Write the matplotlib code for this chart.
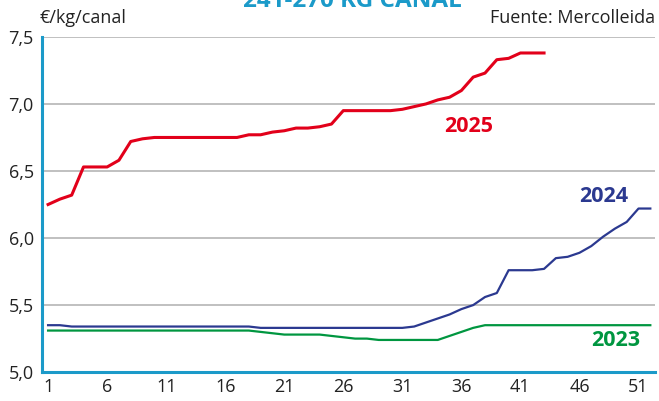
import matplotlib
matplotlib.use("Agg")
import matplotlib.pyplot as plt
import numpy as np

plt.rcParams["font.family"] = ["Open Sans", "DejaVu Sans"]

weeks_2025 = list(range(1, 44))
price_2025 = [6.25, 6.29, 6.32, 6.53, 6.53, 6.53, 6.58, 6.72, 6.74, 6.75,
              6.75, 6.75, 6.75, 6.75, 6.75, 6.75, 6.75, 6.77, 6.77, 6.79,
              6.80, 6.82, 6.82, 6.83, 6.85, 6.95, 6.95, 6.95, 6.95, 6.95,
              6.96, 6.98, 7.00, 7.03, 7.05, 7.10, 7.20, 7.23, 7.33, 7.34,
              7.38, 7.38, 7.38]

weeks_full = list(range(1, 53))
price_2024 = [5.35, 5.35, 5.34, 5.34, 5.34, 5.34, 5.34, 5.34, 5.34, 5.34,
              5.34, 5.34, 5.34, 5.34, 5.34, 5.34, 5.34, 5.34, 5.33, 5.33,
              5.33, 5.33, 5.33, 5.33, 5.33, 5.33, 5.33, 5.33, 5.33, 5.33,
              5.33, 5.34, 5.37, 5.40, 5.43, 5.47, 5.50, 5.56, 5.59, 5.76,
              5.76, 5.76, 5.77, 5.85, 5.86, 5.89, 5.94, 6.01, 6.07, 6.12,
              6.22, 6.22]
price_2023 = [5.31, 5.31, 5.31, 5.31, 5.31, 5.31, 5.31, 5.31, 5.31, 5.31,
              5.31, 5.31, 5.31, 5.31, 5.31, 5.31, 5.31, 5.31, 5.30, 5.29,
              5.28, 5.28, 5.28, 5.28, 5.27, 5.26, 5.25, 5.25, 5.24, 5.24,
              5.24, 5.24, 5.24, 5.24, 5.27, 5.30, 5.33, 5.35, 5.35, 5.35,
              5.35, 5.35, 5.35, 5.35, 5.35, 5.35, 5.35, 5.35, 5.35, 5.35,
              5.35, 5.35]

y_ticks = [5.0, 5.5, 6.0, 6.5, 7.0, 7.5]
x_ticks = [1, 6, 11, 16, 21, 26, 31, 36, 41, 46, 51]

RED = "#e2001a"
BLUE = "#2b3990"
GREEN = "#009640"
CYAN = "#1b9ac9"
GRID = "#b5b5b5"

W, H = 659, 401
fig = plt.figure(figsize=(W / 100, H / 100), dpi=100)
ax = fig.add_axes([0.064, 0.072, 0.93, 0.836])

for yv in y_ticks[1:]:
    ax.axhline(yv, color=GRID, linewidth=1.2, zorder=1)

ax.plot(weeks_full, price_2023, color=GREEN, linewidth=1.6, zorder=3)
ax.plot(weeks_full, price_2024, color=BLUE, linewidth=1.6, zorder=3)
ax.plot(weeks_2025, price_2025, color=RED, linewidth=2.2, zorder=4)

ax.set_xlim(0.5, 52.4)
ax.set_ylim(5.0, 7.5)
ax.set_xticks(x_ticks)
ax.set_yticks(y_ticks)
ax.set_yticklabels([f"{v:.1f}".replace(".", ",") for v in y_ticks])
ax.tick_params(length=0, labelsize=13, colors="#222222", pad=4)
ax.tick_params(axis="y", pad=6)

for side in ["top", "right"]:
    ax.spines[side].set_visible(False)
ax.spines["left"].set_color(CYAN)
ax.spines["left"].set_linewidth(2.2)
ax.spines["bottom"].set_color(CYAN)
ax.spines["bottom"].set_linewidth(2.2)

# series labels, placed in figure pixel coords (from top-left)
for x, y, label, color in [(469, 127, "2025", RED), (604, 197, "2024", BLUE), (616, 340, "2023", GREEN)]:
    fig.text(x / W, 1 - y / H, label, color=color, fontsize=15.5,
             fontweight="bold", ha="center", va="center")

fig.text(40 / W, 1 - 18 / H, "€/kg/canal", fontsize=13, color="#222222",
         ha="left", va="center")
fig.text(655 / W, 1 - 18 / H, "Fuente: Mercolleida", fontsize=13,
         color="#222222", ha="right", va="center")
fig.text(352 / W, 1 - 1 / H, "241-270 KG CANAL", fontsize=17.5, color=CYAN,
         fontweight="bold", ha="center", va="center")

fig.savefig("out.png", dpi=100)
